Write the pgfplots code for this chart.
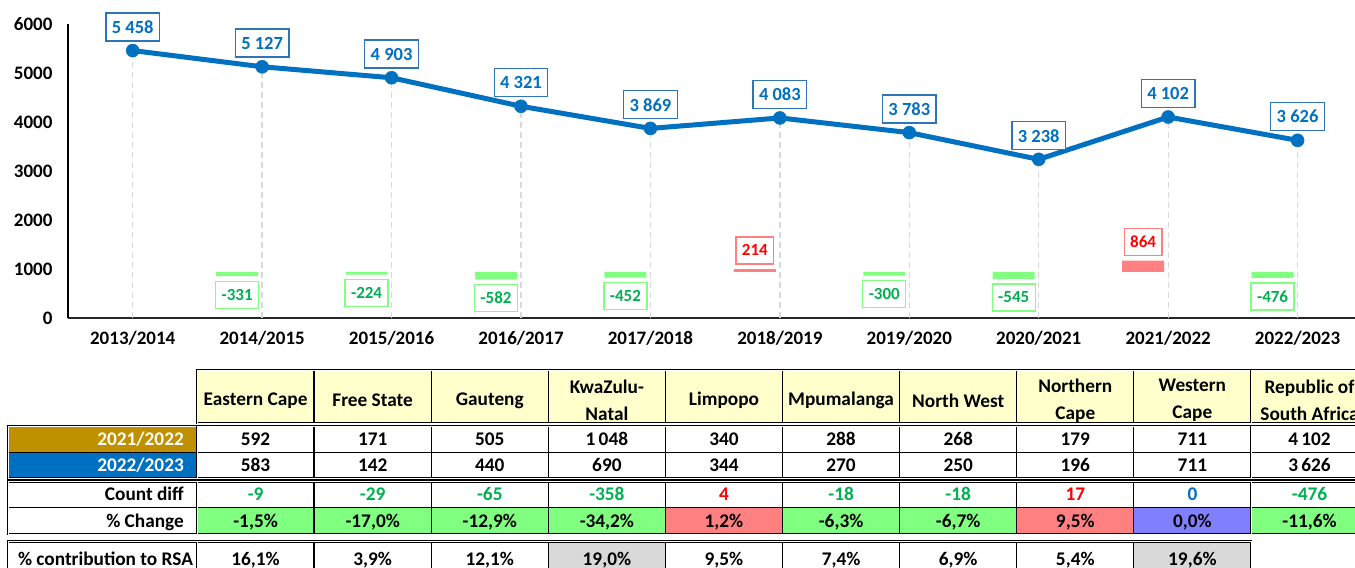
\documentclass[border=0pt]{standalone}
\usepackage{pgfplots}
\pgfplotsset{compat=1.18}
\usepackage{fontspec}
\setmainfont{Carlito}
\definecolor{lineblue}{HTML}{0070C0}
\definecolor{boxblue}{HTML}{2E75B6}
\definecolor{dropgray}{HTML}{D9D9D9}
\definecolor{bargreen}{HTML}{80FF80}
\definecolor{barred}{HTML}{FF8080}
\definecolor{txtgreen}{HTML}{00B050}
\definecolor{txtred}{HTML}{FF0000}
\definecolor{hdr}{HTML}{FFFFCC}
\definecolor{gold}{HTML}{BF9000}
\definecolor{purp}{HTML}{8080FF}
\definecolor{cgray}{HTML}{D9D9D9}
\newcommand\tfont{\fontsize{19.3bp}{26.7bp}\selectfont\bfseries}
\begin{document}
\begin{tikzpicture}
\useasboundingbox (0,0) rectangle (1355bp,-568bp);
\clip (0,0) rectangle (1355bp,-568bp);
% ---------- main line chart ----------
\begin{axis}[
  at={(68bp,-318bp)}, anchor=south west,
  scale only axis, width=1287bp, height=294bp,
  xmin=-0.5, xmax=9.444, ymin=0, ymax=6000,
  clip=false,
  axis x line=bottom, axis y line=left,
  axis line style={-},
  x axis line style={draw=black!85, line width=1.8bp},
  y axis line style={draw=black, line width=1.2bp},
  xtick={0,...,9},
  xticklabels={2013/2014,2014/2015,2015/2016,2016/2017,2017/2018,2018/2019,2019/2020,2020/2021,2021/2022,2022/2023},
  ytick={0,1000,2000,3000,4000,5000,6000},
  yticklabels={0,1000,2000,3000,4000,5000,6000},
  major tick length=0pt,
  tick label style={font=\fontsize{19bp}{22bp}\selectfont\bfseries, text=black},
  xticklabel style={yshift=-10bp},
  yticklabel style={xshift=-12bp},
]
\addplot[ycomb, draw=dropgray, line width=1.3bp, dash pattern=on 6bp off 4bp]
  coordinates {(0,5458) (1,5127) (2,4903) (3,4321) (4,3869) (5,4083) (6,3783) (7,3238) (8,4102) (9,3626)};
\addplot[draw=lineblue, line width=5bp, mark=*, mark size=6.5bp,
  mark options={fill=lineblue, draw=lineblue, line width=0.5bp},
  nodes near coords, point meta=explicit symbolic,
  every node near coord/.style={anchor=south, yshift=9bp, draw=boxblue, line width=1.3bp,
    fill=white, text=lineblue, font=\fontsize{18.5bp}{22bp}\selectfont\bfseries,
    inner xsep=6bp, inner ysep=0pt, minimum height=28bp}]
  coordinates {(0,5458) [5 458] (1,5127) [5 127] (2,4903) [4 903] (3,4321) [4 321]
    (4,3869) [3 869] (5,4083) [4 083] (6,3783) [3 783] (7,3238) [3 238]
    (8,4102) [4 102] (9,3626) [3 626]};
\end{axis}
% ---------- difference bars ----------
\begin{axis}[
  at={(68bp,-318bp)}, anchor=south west,
  scale only axis, width=1287bp, height=294bp,
  xmin=-0.5, xmax=9.444, ymin=-3609, ymax=19359,
  hide axis, clip=false,
  ybar, bar width=42bp, bar shift=-25bp,
]
\addplot[fill=bargreen, draw=none, bar shift=-25bp,
  nodes near coords, point meta=explicit symbolic,
  every node near coord/.append style={anchor=north, yshift=-4.5bp, draw=bargreen, line width=1.3bp,
    fill=white, text=txtgreen, font=\fontsize{17bp}{20bp}\selectfont\bfseries,
    inner xsep=6bp, inner ysep=0pt, minimum height=27bp}]
  coordinates {(1,-331) [-331] (2,-224) [-224] (3,-582) [-582] (4,-452) [-452]
    (6,-300) [-300] (7,-545) [-545] (9,-476) [-476]};
\addplot[fill=barred, draw=none, bar shift=-25bp,
  nodes near coords, point meta=explicit symbolic,
  every node near coord/.append style={anchor=south, yshift=4.5bp, draw=barred, line width=1.3bp,
    fill=white, text=txtred, font=\fontsize{17bp}{20bp}\selectfont\bfseries,
    inner xsep=6bp, inner ysep=0pt, minimum height=27bp}]
  coordinates {(5,214) [214] (8,864) [864]};
\end{axis}
% ---------- table ----------
\begin{scope}[x=1bp, y=-1bp]
\tikzset{thinl/.style={draw=black, line width=1.3bp},
         dbl/.style={draw=black, line width=1bp, double=white, double distance=0.8bp},
         cell/.style={font=\tfont, inner sep=0pt, text height=12.5bp, text depth=0bp}}
% fills
\fill[hdr] (197,370) rectangle (1368,423);
\fill[gold] (8,426) rectangle (197,452.7);
\fill[lineblue] (8,452.7) rectangle (197,478.3);
\foreach \c [count=\k from 0] in {bargreen,bargreen,bargreen,bargreen,barred,bargreen,bargreen,barred,purp,bargreen}
  \fill[\c] ({197+117.1*\k},507.7) rectangle ({197+117.1*(\k+1)},534);
\fill[cgray] ({197+117.1*3},541.7) rectangle ({197+117.1*4},600);
\fill[cgray] ({197+117.1*8},541.7) rectangle ({197+117.1*9},600);
% thin lines
\foreach \k in {1,...,8} {
  \draw[thinl] ({197+117.1*\k},370) -- ({197+117.1*\k},423);
  \draw[thinl] ({197+117.1*\k},426) -- ({197+117.1*\k},478.3);
  \draw[thinl] ({197+117.1*\k},481.7) -- ({197+117.1*\k},534);
  \draw[thinl] ({197+117.1*\k},541.7) -- ({197+117.1*\k},600);
}
\draw[thinl] (8,452.7) -- (1368,452.7);
\draw[thinl] (8,507.7) -- (1368,507.7);
% double borders
\draw[dbl] (197,370) rectangle (1368,423);
\draw[dbl] (8,426) rectangle (1368,478.3);
\draw[dbl] (8,481.7) rectangle (1368,534);
\draw[dbl] (8,541.7) rectangle (1251,600);
\draw[dbl] (197,426) -- (197,478.3);
\draw[dbl] (197,481.7) -- (197,534);
\draw[dbl] (197,541.7) -- (197,600);
\draw[dbl] (1251,370) -- (1251,423);
\draw[dbl] (1251,426) -- (1251,478.3);
\draw[dbl] (1251,481.7) -- (1251,534);
% header
\foreach \v [count=\k from 0] in {Eastern Cape,Free State,Gauteng,{KwaZulu-\\Natal},Limpopo,Mpumalanga,North West,{Northern\\Cape},{Western\\Cape},{Republic of\\South Africa}}
  \node[font=\tfont, align=center, inner sep=0pt] at ({255.6+117.1*\k},400.5) {\v};
% row labels
\node[cell, anchor=east, text=white] at (184,439.3) {2021/2022};
\node[cell, anchor=east, text=white] at (184,465.5) {2022/2023};
\node[cell, anchor=east] at (184,494.7) {Count diff};
\node[cell, anchor=east] at (184,521) {\% Change};
\node[cell] at (105.5,559) {\% contribution to RSA};
% rows
\foreach \v [count=\k from 0] in {592,171,505,1\,048,340,288,268,179,711,4\,102}
  \node[cell] at ({255.6+117.1*\k},439.3) {\v};
\foreach \v [count=\k from 0] in {583,142,440,690,344,270,250,196,711,3\,626}
  \node[cell] at ({255.6+117.1*\k},465.5) {\v};
\foreach \v/\c [count=\k from 0] in {-9/txtgreen,-29/txtgreen,-65/txtgreen,-358/txtgreen,4/txtred,-18/txtgreen,-18/txtgreen,17/txtred,0/lineblue,-476/txtgreen}
  \node[cell, text=\c] at ({255.6+117.1*\k},494.7) {\v};
\foreach \v [count=\k from 0] in {{-1,5\%},{-17,0\%},{-12,9\%},{-34,2\%},{1,2\%},{-6,3\%},{-6,7\%},{9,5\%},{0,0\%},{-11,6\%}}
  \node[cell] at ({255.6+117.1*\k},521) {\v};
\foreach \v [count=\k from 0] in {{16,1\%},{3,9\%},{12,1\%},{19,0\%},{9,5\%},{7,4\%},{6,9\%},{5,4\%},{19,6\%}}
  \node[cell] at ({255.6+117.1*\k},559) {\v};
\end{scope}
\end{tikzpicture}
\end{document}
